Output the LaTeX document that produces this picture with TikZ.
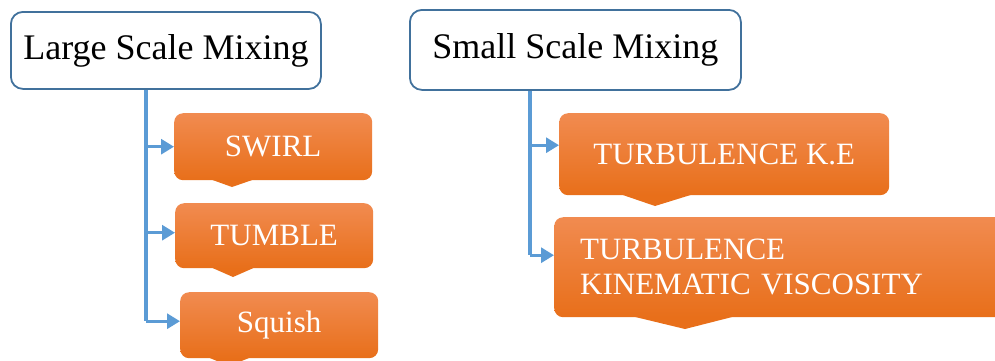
\documentclass[tikz,border=0pt]{standalone}
\usepackage{fontspec}
\setmainfont{Liberation Serif}
\usetikzlibrary{positioning,arrows.meta}
\definecolor{mixblue}{HTML}{41719C}
\definecolor{linkblue}{HTML}{5B9BD5}
\definecolor{ortop}{HTML}{F18B50}
\definecolor{orbot}{HTML}{E86F1A}

\begin{document}
\begin{tikzpicture}[x=1pt,y=-1pt,
    mixbox/.style={draw=mixblue,line width=1.8pt,rounded corners=12pt,fill=white,
        inner sep=0pt,anchor=north west,font=\fontsize{36}{40}\selectfont},
    subbox/.style={rounded corners=9pt,top color=ortop,bottom color=orbot,text=white,
        inner sep=0pt,anchor=north west,font=\fontsize{31}{35}\selectfont},
    trunk/.style={linkblue,line width=4pt},
    link/.style={linkblue,line width=3pt,-{Triangle[length=13pt,width=15pt]}}]
    \useasboundingbox (0,0) rectangle (995,360);
            % Heads
            \node[mixbox,minimum width=310pt,minimum height=77pt] (large) at (10,11) {Large Scale Mixing};
            \node[mixbox,minimum width=331pt,minimum height=80pt] (small) at (409,9) {Small Scale Mixing};
            % Pointers under the boxes
            \fill[orbot] (207,178) -- (232,187) -- (258,178) -- cycle;
            \fill[orbot] (208,266) -- (233,277) -- (258,266) -- cycle;
            \fill[orbot] (205,356) -- (229,366) -- (254,356) -- cycle;
            \fill[orbot] (617,193) -- (655,206) -- (697,193) -- cycle;
            \fill[orbot] (627,315) -- (685,329) -- (740,315) -- cycle;
            % Large scale
            \node[subbox,minimum width=198pt,minimum height=67pt] (swirl) at (174,113) {SWIRL};
            \node[subbox,minimum width=198pt,minimum height=65pt] (tumble) at (175,203) {TUMBLE};
            \node[subbox,minimum width=198pt,minimum height=66pt] (squish) at (180,292) {Squish};
            % Small scale
            \node[subbox,minimum width=330pt,minimum height=82pt] (tke) at (559,113) {TURBULENCE K.E};
            \node[subbox,minimum height=100pt,inner xsep=26pt,text width=398pt,align=left] (tkv) at (554,217)
                {TURBULENCE\\KINEMATIC VISCOSITY};
            % Connectors
            \coordinate (lt) at ([xshift=-20pt]large.south);
            \coordinate (st) at ([xshift=-45pt]small.south);
            \coordinate (swirlin) at (swirl.west);
            \coordinate (tumblein) at ([yshift=3pt]tumble.west);
            \coordinate (squishin) at ([yshift=4pt]squish.west);
            \coordinate (tkein) at ([yshift=9pt]tke.west);
            \coordinate (tkvin) at ([yshift=12pt]tkv.west);
            \draw[trunk] (lt) -- (lt |- squishin);
            \draw[link] (lt |- swirlin) -- (swirlin);
            \draw[link] (lt |- tumblein) -- (tumblein);
            \draw[link] (lt |- squishin) -- (squishin);
            \draw[trunk] (st) -- (st |- tkvin);
            \draw[link] (st |- tkein) -- (tkein);
            \draw[link] (st |- tkvin) -- (tkvin);
\end{tikzpicture}
\end{document}
